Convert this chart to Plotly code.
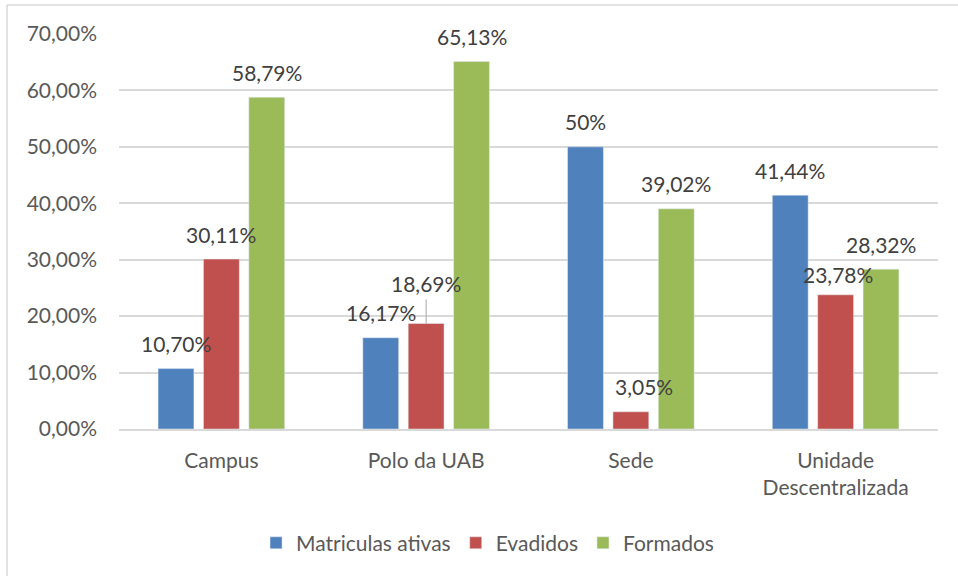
import plotly.graph_objects as go

categories = ["Campus", "Polo da UAB", "Sede", "Unidade<br>Descentralizada"]
matriculas = [0.1070, 0.1617, 0.50, 0.4144]
evadidos = [0.3011, 0.1869, 0.0305, 0.2378]
formados = [0.5879, 0.6513, 0.3902, 0.2832]
labels_mat = ["10,70%", "16,17%", "50%", "41,44%"]
labels_eva = ["30,11%", "18,69%", "3,05%", "23,78%"]
labels_for = ["58,79%", "65,13%", "39,02%", "28,32%"]

W, H = 958, 576
L, R, T, B = 119, 20, 34, 147
FONT = "Lato"
FS = 21
BARGAP = 0.335

fig = go.Figure()
fig.add_trace(go.Bar(x=categories, y=matriculas, name="Matriculas ativas", marker_color="#4f81bd"))
fig.add_trace(go.Bar(x=categories, y=evadidos, name="Evadidos", marker_color="#c0504d"))
fig.add_trace(go.Bar(x=categories, y=formados, name="Formados", marker_color="#9bbb59"))

ph = H - B - T
pw = W - L - R

# data labels placed like the original (Excel) chart
slot = pw / 4 * (1 - BARGAP) / 3
annotations = []
series = [(matriculas, labels_mat, -slot), (evadidos, labels_eva, 0), (formados, labels_for, slot)]
for vals, labs, dx in series:
    for c, v, t in zip(categories, vals, labs):
        xs, ys = dx, 25
        if t == "18,69%":
            ys = 40
        elif t == "3,05%":
            xs = dx + 13
        elif t == "23,78%":
            xs, ys = dx + 2, 20
        annotations.append(dict(x=c, y=v, text=t, showarrow=False, xshift=xs, yshift=ys,
                                yanchor="middle", font=dict(family=FONT, size=FS, color="#404040")))

# leader line for 18,69%
fig.add_shape(type="line", xref="x", yref="y", x0=categories[1], x1=categories[1],
              y0=evadidos[1], y1=evadidos[1] + 24 / 5.64 / 100, line=dict(color="#a6a6a6", width=1))

# chart border (only top and left edges are visible)
bx = (7 - L) / pw
by = (H - B - 5) / ph
fig.add_shape(type="line", xref="paper", yref="paper", x0=bx, x1=1.05, y0=by, y1=by,
              line=dict(color="#d9d9d9", width=1.5))
fig.add_shape(type="line", xref="paper", yref="paper", x0=bx, x1=bx, y0=by, y1=-0.4,
              line=dict(color="#d9d9d9", width=1.5))

fig.update_layout(
    width=W, height=H,
    margin=dict(l=L, r=R, t=T, b=B),
    paper_bgcolor="white", plot_bgcolor="white",
    separators=",.",
    barmode="group", bargap=BARGAP, bargroupgap=0.21,
    font=dict(family=FONT, size=FS, color="#595959"),
    annotations=annotations,
    showlegend=True,
    legend=dict(orientation="h", x=0.45, xanchor="center", y=-0.289, yanchor="middle",
                font=dict(family=FONT, size=FS, color="#595959"), itemwidth=30),
    xaxis=dict(showline=True, linecolor="#d9d9d9", linewidth=1.5, ticks="", ticklabelstandoff=12),
    yaxis=dict(range=[0, 0.70], dtick=0.10, tickformat=".2%", showgrid=True, gridcolor="#d9d9d9",
               gridwidth=1.5, zeroline=False, ticklabelstandoff=21),
)

fig.write_html("out.html", config={"displayModeBar": False},
               post_script="document.body.style.margin='0';")
